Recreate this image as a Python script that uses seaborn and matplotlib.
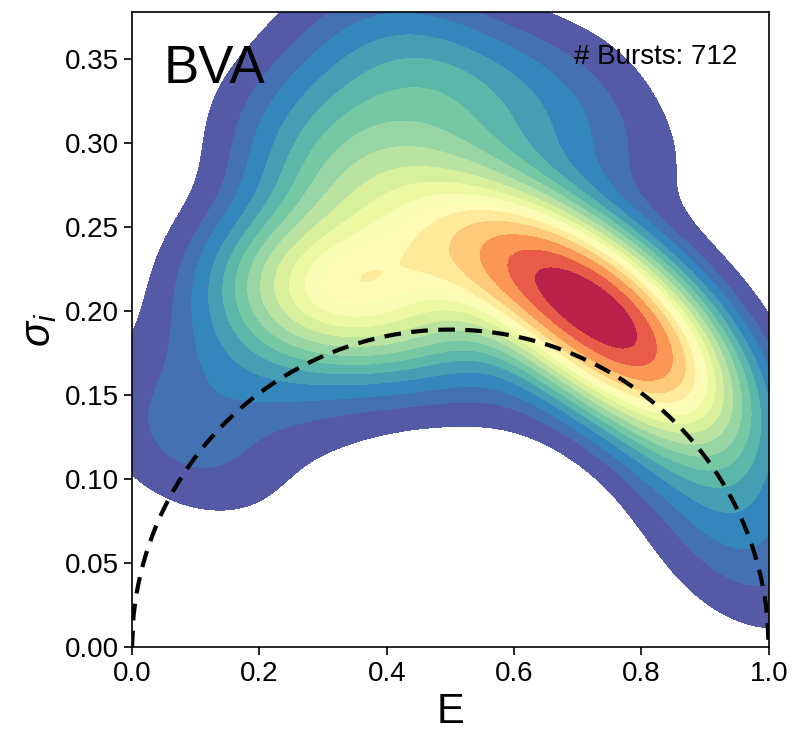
import numpy as np
import pandas as pd
import matplotlib
matplotlib.use("Agg")
import matplotlib.pyplot as plt
import seaborn as sns

sns.set_style("ticks")
plt.rcParams['font.family'] = ['Liberation Sans', 'DejaVu Sans']
plt.rcParams['mathtext.fontset'] = 'custom'
plt.rcParams['mathtext.it'] = 'Liberation Sans:italic'
plt.rcParams['mathtext.rm'] = 'Liberation Sans'
plt.rcParams['text.color'] = 'black'
plt.rcParams['axes.labelcolor'] = 'black'
plt.rcParams['xtick.color'] = 'black'
plt.rcParams['ytick.color'] = 'black'
plt.rcParams['axes.edgecolor'] = 'black'

# burst groups: FRET efficiency, sigma_i, number of bursts
burst_E = [0.60, 0.64, 0.68, 0.72, 0.76, 0.80, 0.84, 0.88, 0.92, 0.95, 0.98,
           0.24, 0.30, 0.35, 0.41, 0.47, 0.53,
           0.25, 0.32, 0.40, 0.48, 0.56, 0.36, 0.44, 0.52, 0.28, 0.62, 0.45,
           0.65, 0.72, 0.80, 0.88, 0.35, 0.75,
           0.20, 0.14, 0.08, 0.04, 0.08, 0.16,
           0.40, 0.52, 0.28, 0.62]
burst_sigma = [0.245, 0.231, 0.217, 0.203, 0.189, 0.174, 0.157, 0.134, 0.100, 0.066, 0.030,
               0.205, 0.210, 0.213, 0.220, 0.228, 0.236,
               0.300, 0.320, 0.330, 0.340, 0.330, 0.270, 0.280, 0.280, 0.260, 0.300, 0.380,
               0.350, 0.310, 0.290, 0.220, 0.370, 0.350,
               0.185, 0.165, 0.140, 0.125, 0.105, 0.105,
               0.168, 0.172, 0.140, 0.155]
burst_count = [35, 56, 70, 76, 76, 68, 50, 36, 25, 18, 12,
               38, 48, 48, 40, 36, 36,
               14, 20, 22, 20, 16, 30, 30, 22, 20, 14, 12,
               10, 10, 7, 5, 8, 5,
               18, 14, 11, 7, 8, 6,
               10, 10, 8, 8]

n_photons = 7   # static BVA line, window of 7 photons
n_bursts = 712

df = pd.DataFrame({'E': burst_E, 'sigma': burst_sigma, 'n': burst_count})

fig = plt.figure(figsize=(7.95, 7.34), dpi=100)
ax = fig.add_axes([0.166, 0.118, 0.801, 0.866])

sns.kdeplot(data=df, x='E', y='sigma', weights='n', fill=True, levels=18,
            thresh=0.05, cmap='Spectral_r', bw_adjust=0.8, ax=ax)

# static line sigma = sqrt(E(1-E)/n)
e_line = np.linspace(0, 1, 400)
ax.plot(e_line, np.sqrt(e_line * (1 - e_line) / n_photons), 'k--', lw=3, dashes=(4, 2.5))

ax.set_xlim(0, 1)
ax.set_ylim(0, 0.378)
ax.set_xticks([0, 0.2, 0.4, 0.6, 0.8, 1.0])
ax.set_yticks(np.arange(0, 0.36, 0.05))
ax.xaxis.set_major_formatter(matplotlib.ticker.FormatStrFormatter('%.1f'))
ax.yaxis.set_major_formatter(matplotlib.ticker.FormatStrFormatter('%.2f'))
ax.tick_params(labelsize=20, length=6, width=1.2)
for s in ax.spines.values():
    s.set_linewidth(1.2)
ax.set_xlabel('E', fontsize=30)
ax.set_ylabel(r'$\sigma_i$', fontsize=30)

ax.text(0.05, 0.95, 'BVA', transform=ax.transAxes, fontsize=38, va='top', ha='left')
ax.text(0.95, 0.95, f'# Bursts: {n_bursts}', transform=ax.transAxes, fontsize=20,
        va='top', ha='right')

fig.savefig('out.png', dpi=100)
